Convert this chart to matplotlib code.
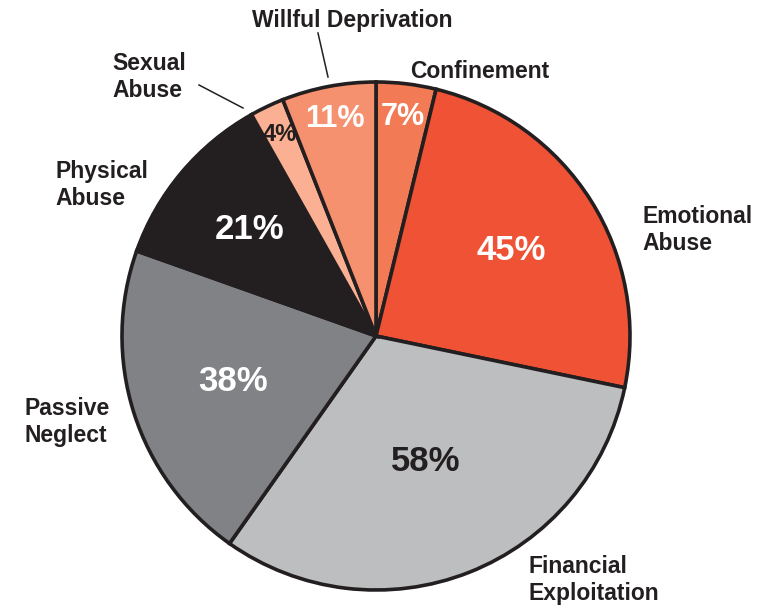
import numpy as np
import matplotlib
matplotlib.use("Agg")
import matplotlib.pyplot as plt

# data, clockwise from 12 o'clock
categories = ["Confinement", "Emotional\nAbuse", "Financial\nExploitation", "Passive\nNeglect",
              "Physical\nAbuse", "Sexual\nAbuse", "Willful Deprivation"]
values = [7, 45, 58, 38, 21, 4, 11]
colors = ["#F27A54", "#EF5234", "#BCBEC0", "#808285", "#231F20", "#FBB093", "#F5916F"]
pct_colors = ["white", "white", "#231F20", "white", "white", "#231F20", "white"]
pct_dist = [0.87, 0.63, 0.53, 0.59, 0.65, 0.88, 0.87]
pct_size = [22, 25, 25, 25, 25, 17, 22]

plt.rcParams['font.family'] = ['Liberation Sans', 'DejaVu Sans']

W, H = 776, 605
cx, cy, R = 376, 336, 254

fig = plt.figure(figsize=(W / 100, H / 100), dpi=100)
ax = fig.add_axes([0, 0, 1, 1])

def px(x, y):
    return (x - cx) / R, (cy - y) / R

wedges, _ = ax.pie(values, colors=colors, startangle=90, counterclock=False, radius=1,
                   wedgeprops=dict(edgecolor="#231F20", linewidth=2.6))

ax.set_xlim(-cx / R, (W - cx) / R)
ax.set_ylim(-(H - cy) / R, cy / R)
ax.set_aspect('equal')
ax.axis('off')

for w, v, c, d, fs in zip(wedges, values, pct_colors, pct_dist, pct_size):
    mid = np.deg2rad((w.theta1 + w.theta2) / 2)
    ax.text(d * np.cos(mid), d * np.sin(mid), f"{v}%", color=c, fontsize=fs,
            fontweight='bold', ha='center', va='center')

lab_pos = [(410, 71, 'left'), (642, 230, 'left'), (528, 580, 'left'), (24, 422, 'left'),
           (55, 185, 'left'), (112, 77, 'left'), (352, 20, 'center')]
for name, (x, y, ha) in zip(categories, lab_pos):
    ax.text(*px(x, y), name, fontsize=16.5, fontweight='bold', color="#231F20",
            ha=ha, va='center', linespacing=1.18)

ax.plot(*zip(px(199, 85), px(243, 108)), color="#231F20", lw=1.1)
ax.plot(*zip(px(318, 33), px(328, 77)), color="#231F20", lw=1.1)

fig.savefig("out.png", dpi=100)
